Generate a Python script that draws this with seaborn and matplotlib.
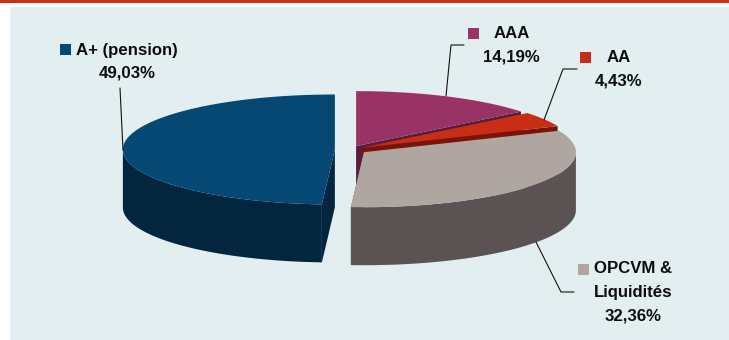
import numpy as np
import matplotlib
matplotlib.use("Agg")
import matplotlib.pyplot as plt
from matplotlib.patches import Rectangle
import seaborn as sns

# Portfolio breakdown by rating
categories = ["AAA", "AA", "OPCVM &\nLiquidités", "A+ (pension)"]
shares = [14.19, 4.43, 32.36, 49.03]
top_colors = ["#993366", "#C82E14", "#AFA6A2", "#044873"]
wall_colors = ["#5B1C3C", "#7A1408", "#5B5353", "#03263E"]
explode = [0.07, 0.07, 0.082, 0.07]

# Geometry of the tilted pie, in figure pixels
CENTER = (349.7, 149.6)
RX, RY = 212.0, 55.0
DEPTH = 58.0

sns.set_theme(style="white")
plt.rcParams["font.family"] = ["Liberation Sans", "DejaVu Sans"]

fig = plt.figure(figsize=(7.29, 3.40), dpi=100)
ax = fig.add_axes([0, 0, 1, 1])
ax.set_xlim(0, 729)
ax.set_ylim(340, 0)
ax.axis("off")
sns.despine(ax=ax, left=True, bottom=True)

# Page furniture: red rule on top, pale panel behind the chart
ax.add_patch(Rectangle((0, 0), 729, 3, color="#C8301A", lw=0))
ax.add_patch(Rectangle((10, 7), 719, 333, color="#E2EEF0", lw=0))


def rim(apex, angles):
    """Points on the ellipse for clockwise angles (radians from 12 o'clock)."""
    return (apex[0] + RX * np.sin(angles), apex[1] - RY * np.cos(angles))


# Slice extents come from the shares, clockwise from 12 o'clock
edges = np.deg2rad(np.cumsum([0.0] + shares) * 360.0 / sum(shares))

for i in range(len(shares)):
    start, end = edges[i], edges[i + 1]
    mid = (start + end) / 2
    apex = (CENTER[0] + explode[i] * RX * np.sin(mid),
            CENTER[1] - explode[i] * RY * np.cos(mid))
    arc = np.linspace(start, end, 200)
    ax_x, ax_y = rim(apex, arc)

    # Cut face on the side turned towards the viewer
    face_angle = start if mid > np.pi else end
    fx, fy = rim(apex, np.array([face_angle]))
    ax.fill([apex[0], fx[0], fx[0], apex[0]],
            [apex[1], fy[0], fy[0] + DEPTH, apex[1] + DEPTH],
            color=wall_colors[i], lw=0, zorder=2 + i)

    # Outer wall: only the part of the rim on the front half
    front = arc[(np.cos(arc) <= 0)]
    if front.size:
        wx, wy = rim(apex, front)
        ax.fill(np.r_[wx, wx[::-1]], np.r_[wy, wy[::-1] + DEPTH],
                color=wall_colors[i], lw=0, zorder=2 + i)

    # Top surface
    ax.fill(np.r_[apex[0], ax_x], np.r_[apex[1], ax_y],
            color=top_colors[i], lw=0, zorder=2 + i)

# Labels: swatch, name and share, with a leader line back to the slice
swatches = [(468, 28), (580, 52), (578, 264), (60, 44)]
name_pos = [(512, 33), (619, 57), (633, 280.5), (127, 50)]
value_pos = [(511, 57), (619, 81), (633, 316), (127, 73)]
leaders = [
    [(464, 45), (451, 45), (446, 96)],
    [(577, 69), (563, 69), (544, 120)],
    [(536, 242), (561, 292), (574, 292)],
    [(120, 88), (123, 150)],
]
font = dict(fontsize=12.1, fontweight="bold", color="#0D0D0D",
            ha="center", va="center", zorder=10)

for i, name in enumerate(categories):
    ax.add_patch(Rectangle(swatches[i], 11, 11, color=top_colors[i], lw=0, zorder=10))
    ax.text(*name_pos[i], name, linespacing=1.7, **font)
    ax.text(*value_pos[i], f"{shares[i]:.2f}".replace(".", ",") + "%", **font)
    lx, ly = zip(*leaders[i])
    ax.plot(lx, ly, color="#111111", lw=0.8, zorder=9)

fig.savefig("out.png", dpi=100, facecolor="white")
